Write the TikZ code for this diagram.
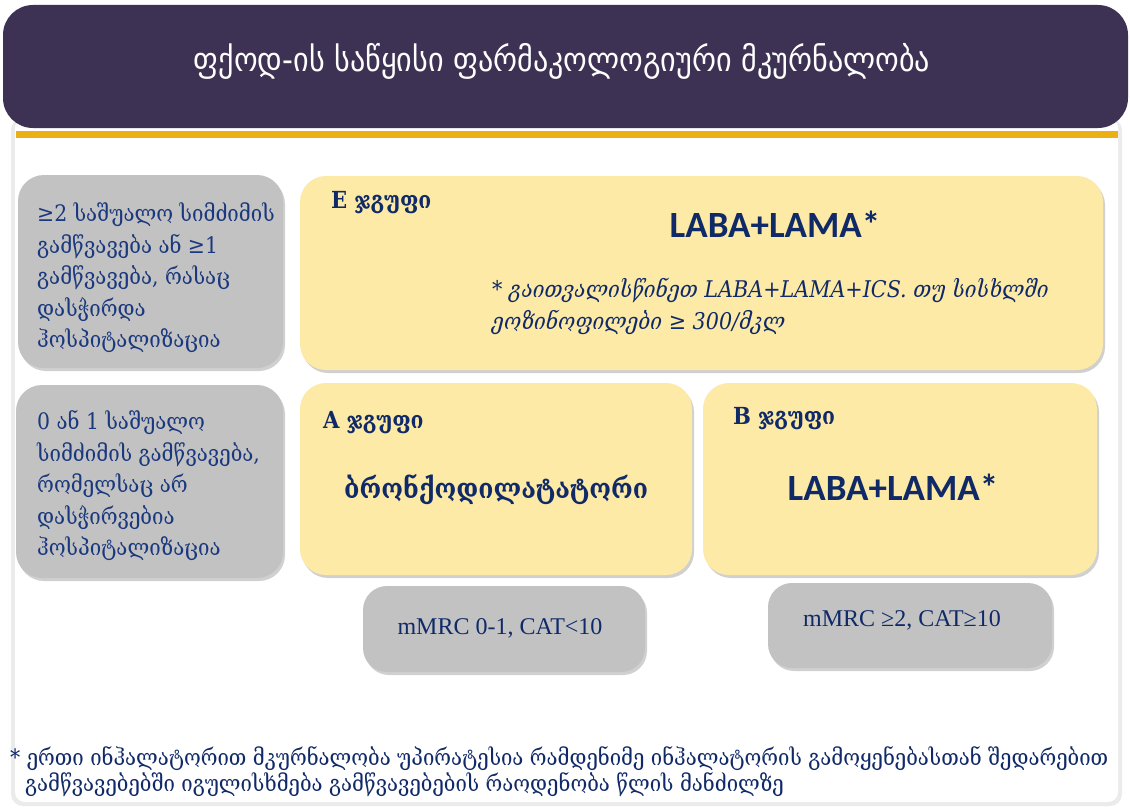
\documentclass[tikz,border=0pt]{standalone}
\usepackage{fontspec}
\setmainfont{Liberation Serif}
\newfontfamily\geo{DejaVu Serif Condensed}
\newfontfamily\geotitle{DejaVu Sans Condensed}
\newfontfamily\labafont{Carlito}
\usetikzlibrary{shadows,positioning}

\definecolor{titlepurple}{RGB}{62,50,84}
\definecolor{bargold}{RGB}{235,176,22}
\definecolor{boxyellow}{RGB}{253,234,167}
\definecolor{boxgray}{RGB}{194,194,194}
\definecolor{navy}{RGB}{16,42,104}
\definecolor{textblue}{RGB}{26,56,126}

\tikzset{
  boxshadow/.style={drop shadow={shadow xshift=2pt,shadow yshift=-3pt,opacity=.3,fill=black!60}},
  graybox/.style={rounded corners=26pt,fill=boxgray,boxshadow},
  yellowbox/.style={rounded corners=26pt,fill=boxyellow,boxshadow},
  graytext/.style={text=textblue,align=left,inner sep=0pt,font=\geo\fontsize{22.7}{31.5}\selectfont},
  grouplbl/.style={text=navy,inner sep=0pt,font=\geo\bfseries\fontsize{23.5}{26}\selectfont},
  labatext/.style={text=navy,inner sep=0pt,font=\labafont\bfseries\fontsize{37}{40}\selectfont},
  scoretext/.style={text=navy,inner sep=0pt,font=\fontsize{24}{28}\selectfont},
  notetext/.style={text=navy,align=left,inner sep=0pt,font=\geo\fontsize{22.6}{26}\selectfont}
}

\begin{document}
\begin{tikzpicture}[x=1pt,y=-1pt]
\useasboundingbox (0,0) rectangle (1130,808);
% white panel
\fill[black!8,rounded corners=12pt] (11,118) rectangle (1122,806);
\fill[white,rounded corners=10pt] (15,118) rectangle (1118,802);
% title
\node[rounded corners=30pt,fill=titlepurple,minimum width=1125,minimum height=123] (titlebox) at (565.5,66.5) {};
\node[text=white,inner sep=0pt,font=\geotitle\fontsize{33.5}{38}\selectfont] (title) at (562,61) {ფქოდ-ის საწყისი ფარმაკოლოგიური მკურნალობა};
\fill[bargold] (16,131) rectangle (1118,138);

% exacerbation rows
\node[graybox,minimum width=265,minimum height=193] (severe) at (150.5,271.5) {};
\node[graytext,anchor=west] (severetxt) at (37,278) {≥2 საშუალო სიმძიმის\\გამწვავება ან ≥1\\გამწვავება, რასაც\\დასჭირდა\\ჰოსპიტალიზაცია};
\node[graybox,minimum width=267,minimum height=193] (mild) at (149.5,481.5) {};
\node[graytext,anchor=west] (mildtxt) at (37,486) {0 ან 1 საშუალო\\სიმძიმის გამწვავება,\\რომელსაც არ\\დასჭირვებია\\ჰოსპიტალიზაცია};

% group E
\node[yellowbox,minimum width=803,minimum height=194] (groupE) at (701.5,273) {};
\node[grouplbl,anchor=west] (lblE) at (331,203) {E ჯგუფი};
\node[labatext] (labaE) at (775,224) {LABA+LAMA*};
\node[notetext,anchor=north west,font=\geo\itshape\fontsize{23}{32}\selectfont] (noteE) at (492,278) {* გაითვალისწინეთ LABA+LAMA+ICS. თუ სისხლში\\ეოზინოფილები ≥ 300/მკლ};

% groups A and B
\node[yellowbox,minimum width=392,minimum height=192] (groupA) at (496,479) {};
\node[grouplbl,anchor=west] (lblA) at (323,423) {A ჯგუფი};
\node[text=navy,inner sep=0pt,font=\geo\bfseries\fontsize{27.5}{30}\selectfont] (bronch) at (496,490) {ბრონქოდილატატორი};
\node[yellowbox,minimum width=394,minimum height=192] (groupB) at (900,479) {};
\node[grouplbl,anchor=west] (lblB) at (733,419) {B ჯგუფი};
\node[labatext] (labaB) at (893,487) {LABA+LAMA*};

% symptom scores
\node[graybox,rounded corners=24pt,minimum width=282,minimum height=86] (scoreA) at (504,629) {};
\node[scoretext] (scoreAtxt) at (500,628) {mMRC 0-1, CAT<10};
\node[graybox,rounded corners=24pt,minimum width=284,minimum height=85] (scoreB) at (910,625.5) {};
\node[scoretext] (scoreBtxt) at (902,620) {mMRC ≥2, CAT≥10};

% footnote
\node[notetext,anchor=north west] (foot) at (10,746) {* ერთი ინჰალატორით მკურნალობა უპირატესია რამდენიმე ინჰალატორის გამოყენებასთან შედარებით\\\hspace*{15pt}გამწვავებებში იგულისხმება გამწვავებების რაოდენობა წლის მანძილზე};
\end{tikzpicture}
\end{document}
